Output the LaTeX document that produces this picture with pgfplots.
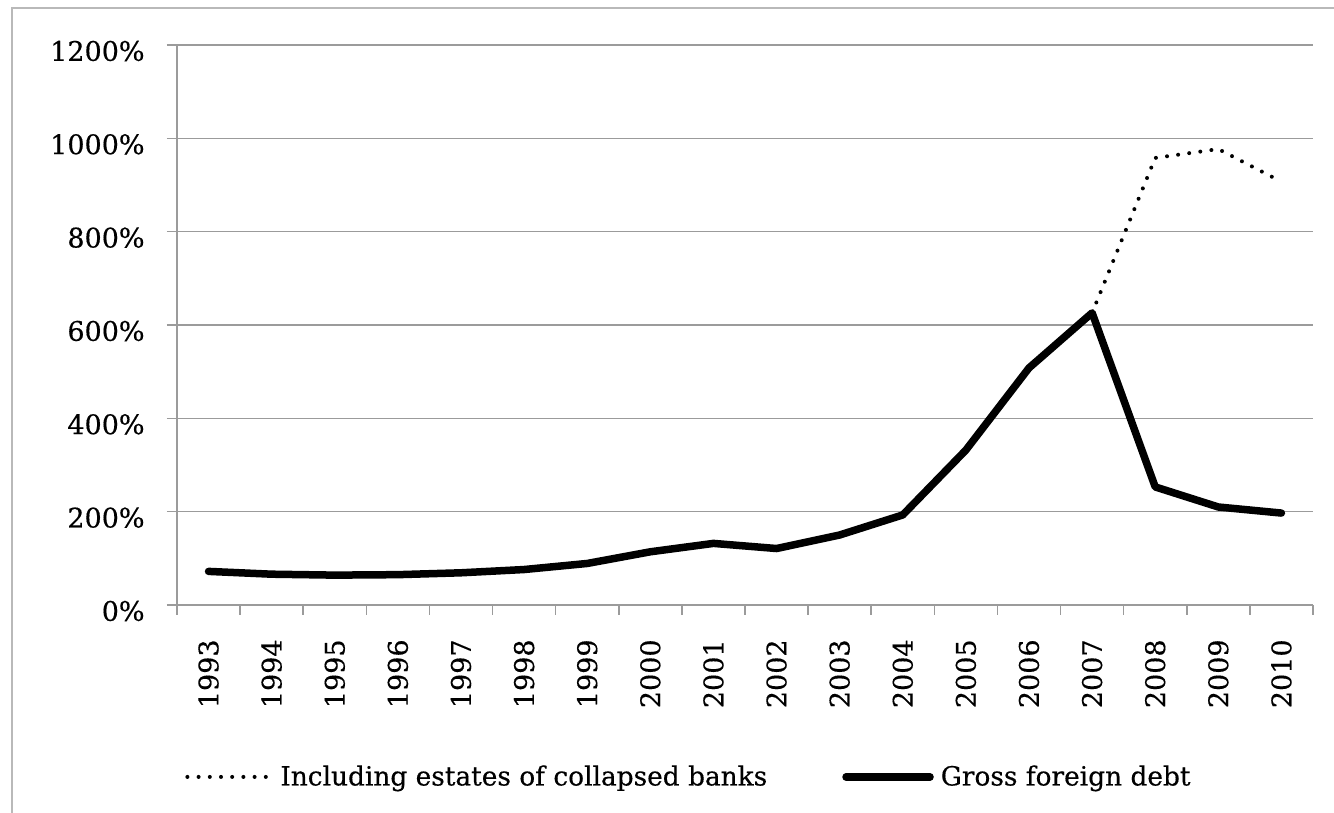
\documentclass[border=0pt]{standalone}
\usepackage{pgfplots}
\pgfplotsset{compat=1.18}
\usepackage{fontspec}
\setmainfont{DejaVu Serif}[FakeBold=0.4]
\newfontfamily\legfont{DejaVu Serif}[FakeBold=0.4]
\definecolor{gridc}{RGB}{155,155,155}
\definecolor{framec}{RGB}{185,185,185}
\begin{document}
\begin{tikzpicture}
\draw[framec, line width=1pt] (6pt,-2pt) -- (6pt,402.5pt) -- (670pt,402.5pt);
\begin{axis}[
  at={(88.5pt,104pt)}, anchor=south west,
  scale only axis, width=568pt, height=280pt,
  xmin=-0.5, xmax=17.5, ymin=0, ymax=1200,
  axis lines=left, axis line style={-, gridc, line width=0.75pt},
  ytick={0,200,...,1200},
  yticklabels={0\%,200\%,400\%,600\%,800\%,1000\%,1200\%},
  ymajorgrids, grid style={gridc, line width=0.75pt},
  xtick={0,...,17},
  xticklabels={1993,1994,1995,1996,1997,1998,1999,2000,2001,2002,2003,2004,2005,2006,2007,2008,2009,2010},
  minor xtick={-0.5,0.5,...,17.5},
  tick align=outside,
  major tick length=5pt, minor tick length=5pt,
  xtick style={draw=none},
  minor x tick style={draw=gridc, line width=0.75pt},
  ytick style={draw=gridc, line width=0.75pt},
  tick label style={font=\fontsize{13.5}{16}\selectfont, text=black},
  xticklabel style={rotate=90, anchor=east, inner sep=0pt},
  xticklabel shift=12pt,
  yticklabel style={anchor=east, inner sep=0pt, yshift=-3pt},
  yticklabel shift=11pt,
  legend columns=2,
  legend style={at={(0.00704,-0.307)}, anchor=west, draw=none, fill=none,
    inner sep=0pt, font=\fontsize{13.2}{16}\selectfont,
    nodes={inner sep=0pt},
    column sep=3.5pt,
    /tikz/every even column/.append style={column sep=37.5pt}},
  legend image code/.code={\draw[#1] (0pt,0pt) -- (42pt,0pt);},
]
\addplot[black, line width=2pt, line cap=round, dash pattern=on 0pt off 5.6pt]
  coordinates {(14,626) (15,958) (16,977) (17,907)};
\addlegendentry{Including estates of collapsed banks}
\addplot[black, line width=3.75pt, line join=round, line cap=round]
  coordinates {(0,72) (1,66) (2,64) (3,65) (4,69) (5,76) (6,89) (7,114) (8,132) (9,121) (10,150) (11,193) (12,332) (13,508) (14,626) (15,253) (16,210) (17,197)};
\addlegendentry{Gross foreign debt}
\end{axis}
\pgfresetboundingbox
\path[use as bounding box] (0,0) rectangle (667pt,406.5pt);
\end{tikzpicture}
\end{document}
